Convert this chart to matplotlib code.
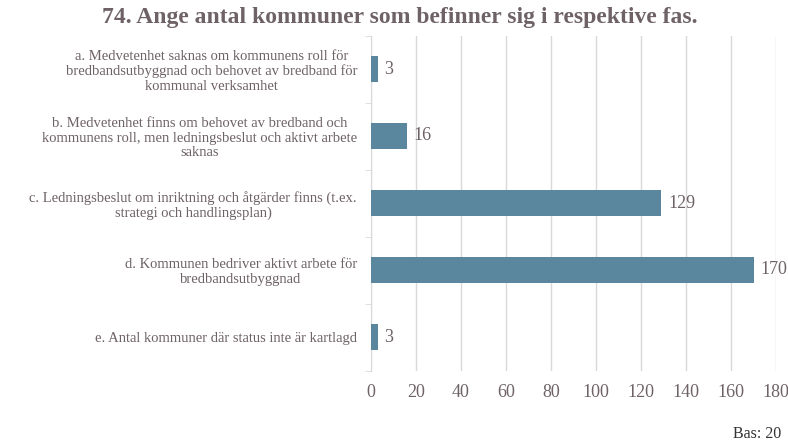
import matplotlib
matplotlib.use("Agg")
import matplotlib.pyplot as plt

categories = [
    "a. Medvetenhet saknas om kommunens roll för\nbredbandsutbyggnad och behovet av bredband för\nkommunal verksamhet",
    "b. Medvetenhet finns om behovet av bredband och\nkommunens roll, men ledningsbeslut och aktivt arbete\nsaknas",
    "c. Ledningsbeslut om inriktning och åtgärder finns (t.ex.\nstrategi och handlingsplan)",
    "d. Kommunen bedriver aktivt arbete för\nbredbandsutbyggnad",
    "e. Antal kommuner där status inte är kartlagd",
]
values = [3, 16, 129, 170, 3]
xticks = [0, 20, 40, 60, 80, 100, 120, 140, 160, 180]
title = "74. Ange antal kommuner som befinner sig i respektive fas."
footnote = "Bas: 20"

txt = "#6e6266"
bar_color = "#5b879e"
grid = "#d9d9d9"
plt.rcParams['font.family'] = ['Liberation Serif', 'DejaVu Serif']

fig = plt.figure(figsize=(7.88, 4.41), dpi=100)
ax = fig.add_axes([371/788, 1-370.5/441, (776-371)/788, 335/441])

ypos = list(range(len(categories)))
ax.barh(ypos, values, height=0.4, color=bar_color, zorder=3)
ax.set_ylim(len(categories)-0.5, -0.5)
ax.set_xlim(0, 180)
ax.set_xticks(xticks)
ax.set_xticklabels([str(t) for t in xticks], fontsize=13, color=txt)
ax.tick_params(axis='x', length=0, pad=10)
ax.set_yticks(ypos)
ax.set_yticklabels(categories, fontsize=10.5, color=txt, multialignment='center', linespacing=1.15)
ax.set_yticks([i - 0.5 for i in range(len(categories)+1)], minor=True)
ax.tick_params(axis='y', which='major', length=0, pad=10)
ax.tick_params(axis='y', which='minor', length=4, color=grid)
ax.grid(axis='x', color=grid, linewidth=1, zorder=0)
for s in ['top', 'right', 'bottom']:
    ax.spines[s].set_visible(False)
ax.spines['left'].set_color(grid)

for y, v in zip(ypos, values):
    ax.text(v + 3, y, str(v), va='center', ha='left', fontsize=13, color=txt, zorder=4)

fig.text(400/788, 1-18/441, title, ha='center', va='center', fontsize=17, fontweight='bold', color=txt)
fig.text(733/788, 1-434/441, footnote, ha='left', va='center', fontsize=11.5, color="#333333")

fig.savefig("out.png", dpi=100)
